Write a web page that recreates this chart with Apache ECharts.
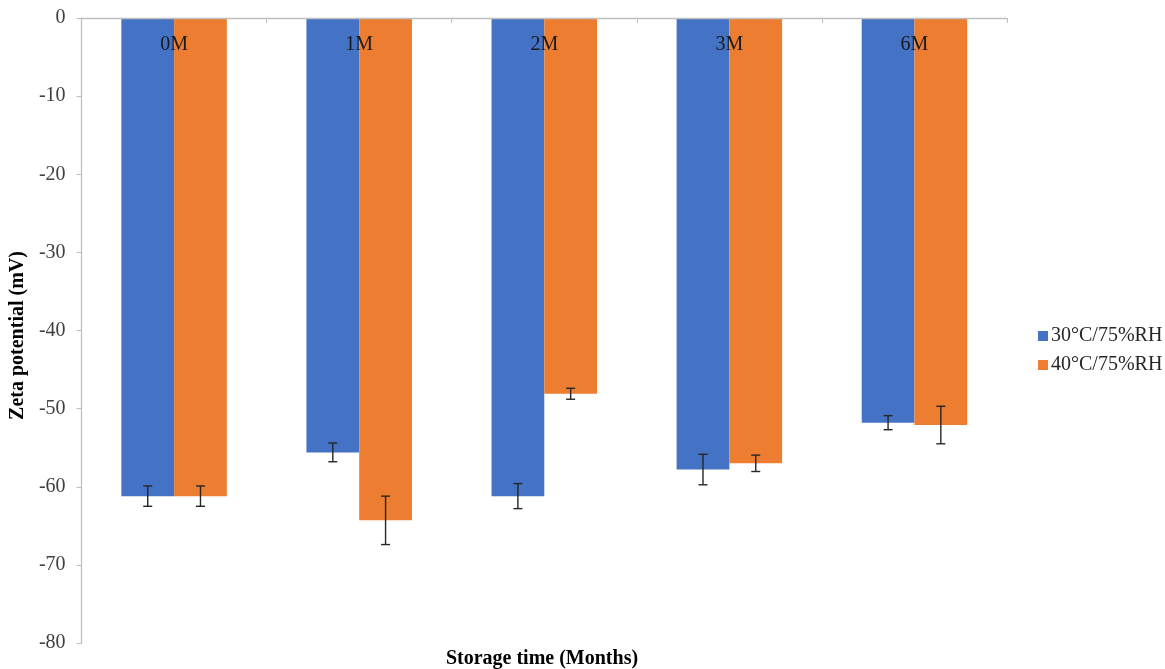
<!DOCTYPE html>
<html>
<head>
<meta charset="utf-8">
<script src="https://cdn.jsdelivr.net/npm/echarts@6/dist/echarts.min.js"></script>
<style>
  html, body { margin: 0; padding: 0; background: #fff; }
  #chart { width: 1165px; height: 669px; }
</style>
</head>
<body>
<div id="chart"></div>
<script>
// Zeta potential of the formulation over storage time at two conditions
const categories = ['0M', '1M', '2M', '3M', '6M'];
const seriesNames = ['30°C/75%RH', '40°C/75%RH'];
const zeta30 = [-61.2, -55.6, -61.2, -57.8, -51.8];
const zeta40 = [-61.2, -64.3, -48.1, -57.0, -52.1];
const err30 = [1.3, 1.2, 1.6, 1.95, 0.9];
const err40 = [1.3, 3.1, 0.7, 1.05, 2.4];
const yTicks = { min: -80, max: 0, step: 10 };

const serif = '"Liberation Serif", "Times New Roman", serif';
const barCategoryGap = 0.43;

// Error bar glyph: vertical whisker with caps, centred on its bar
function errorItem(values, errs, seriesIndex) {
  return function (params, api) {
    const i = api.value(0);
    const v = values[i], e = errs[i];
    const catW = api.size([1, 0])[0];
    const barW = catW * (1 - barCategoryGap) / 2;
    const dx = seriesIndex === 0 ? -barW / 2 : barW / 2;
    const top = api.coord([i, v + e]);
    const bot = api.coord([i, v - e]);
    const x = top[0] + dx;
    const cap = 4.5;
    const style = { stroke: '#262626', lineWidth: 1.4 };
    return {
      type: 'group',
      children: [
        { type: 'line', shape: { x1: x, y1: top[1], x2: x, y2: bot[1] }, style },
        { type: 'line', shape: { x1: x - cap, y1: top[1], x2: x + cap, y2: top[1] }, style },
        { type: 'line', shape: { x1: x - cap, y1: bot[1], x2: x + cap, y2: bot[1] }, style }
      ]
    };
  };
}

const chart = echarts.init(document.getElementById('chart'), null, { renderer: 'canvas' });
chart.setOption({
  animation: false,
  backgroundColor: '#ffffff',
  grid: { left: 77, right: 158, top: 18, bottom: 26 },
  title: {
    text: 'Storage time (Months)',
    left: 542,
    textAlign: 'center',
    top: 648,
    padding: 0,
    textStyle: { fontFamily: serif, fontSize: 20, fontWeight: 'bold', color: '#000', lineHeight: 22 }
  },
  legend: {
    orient: 'vertical',
    left: 1033,
    top: 321,
    itemWidth: 10,
    itemHeight: 10,
    itemGap: 9,
    icon: 'rect',
    data: seriesNames,
    textStyle: { fontFamily: serif, fontSize: 20, color: '#262626', padding: [0, 0, 0, -2] }
  },
  xAxis: {
    type: 'category',
    position: 'top',
    data: categories,
    axisLine: { lineStyle: { color: '#bfbfbf', width: 1.3 } },
    axisTick: { show: true, inside: true, length: 5, lineStyle: { color: '#bfbfbf' } },
    axisLabel: {
      inside: true,
      margin: 17,
      fontFamily: serif,
      fontSize: 20,
      color: '#1a1a1a'
    },
    splitLine: { show: false },
    z: 10
  },
  yAxis: {
    type: 'value',
    min: yTicks.min,
    max: yTicks.max,
    interval: yTicks.step,
    name: 'Zeta potential (mV)',
    nameLocation: 'middle',
    nameGap: 50,
    nameTextStyle: {
      fontFamily: serif, fontSize: 20, fontWeight: 'bold', color: '#000',
      padding: [0, 10, 0, 0]
    },
    axisLine: { show: true, lineStyle: { color: '#bfbfbf', width: 1.3 } },
    axisTick: { show: true, length: 5, lineStyle: { color: '#bfbfbf' } },
    axisLabel: { fontFamily: serif, fontSize: 20, color: '#404040', margin: 16 },
    splitLine: { show: false }
  },
  series: [
    {
      name: seriesNames[0],
      type: 'bar',
      data: zeta30,
      barGap: '0%',
      barCategoryGap: (barCategoryGap * 100) + '%',
      itemStyle: { color: '#4472C4' },
      z: 2
    },
    {
      name: seriesNames[1],
      type: 'bar',
      data: zeta40,
      barGap: '0%',
      barCategoryGap: (barCategoryGap * 100) + '%',
      itemStyle: { color: '#ED7D31' },
      z: 2
    },
    {
      type: 'custom',
      name: 'err30',
      renderItem: errorItem(zeta30, err30, 0),
      data: categories.map((c, i) => [i]),
      encode: { x: 0 },
      z: 5,
      silent: true
    },
    {
      type: 'custom',
      name: 'err40',
      renderItem: errorItem(zeta40, err40, 1),
      data: categories.map((c, i) => [i]),
      encode: { x: 0 },
      z: 5,
      silent: true
    }
  ]
});
</script>
</body>
</html>
